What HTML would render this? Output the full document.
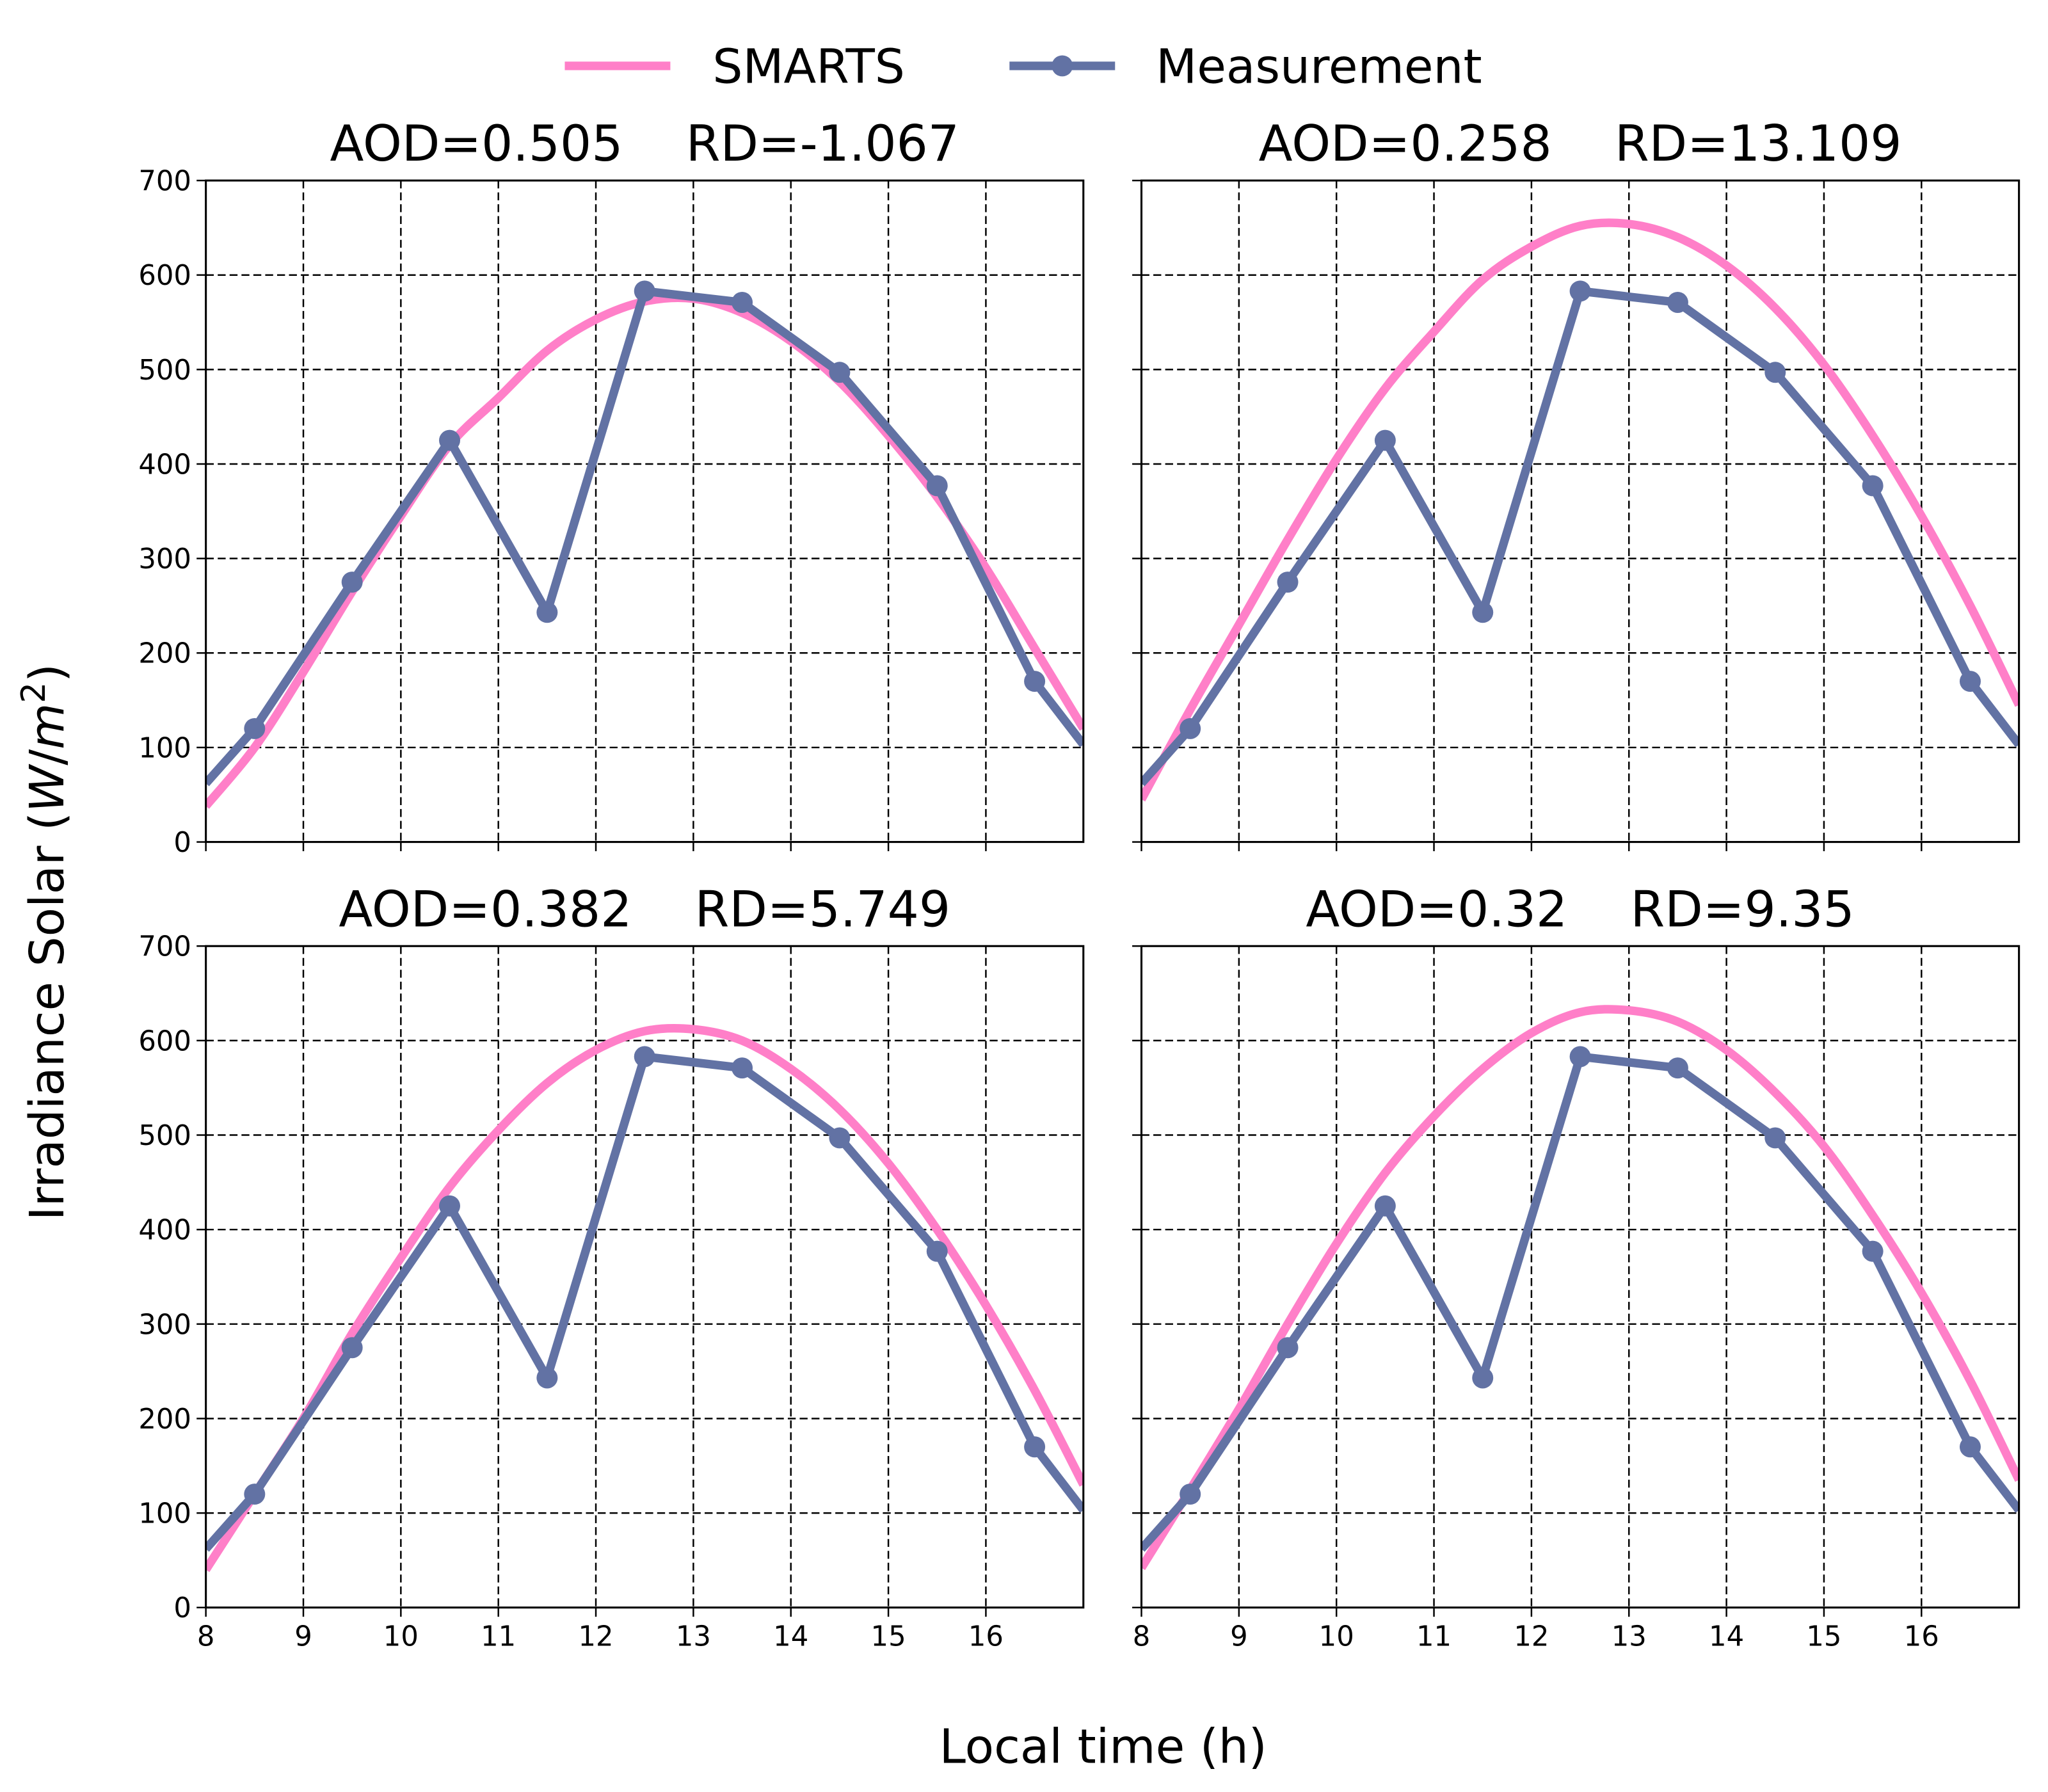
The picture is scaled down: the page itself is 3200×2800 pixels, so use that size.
<!DOCTYPE html>
<html><head><meta charset="utf-8"><style>
html,body{margin:0;padding:0;background:#fff}
svg{display:block}
text{font-family:"DejaVu Sans","Liberation Sans",sans-serif;fill:#000}
</style></head><body>
<svg id="chart" width="3200" height="2800" viewBox="0 0 1552 1360" preserveAspectRatio="none" xmlns="http://www.w3.org/2000/svg">
<g>
<line x1="428" y1="50" x2="508" y2="50" stroke="#ff7fc8" stroke-width="6.5"/>
<text x="540" y="63" font-size="36">SMARTS</text>
<line x1="765" y1="50" x2="845" y2="50" stroke="#6272a4" stroke-width="6.5"/>
<circle cx="805" cy="50" r="8" fill="#6272a4"/>
<text x="876" y="63" font-size="36">Measurement</text>
</g>
<text x="836" y="1338" font-size="36" text-anchor="middle">Local time (h)</text>
<text transform="translate(48,715) rotate(-90)" font-size="36" text-anchor="middle">Irradiance Solar (<tspan font-style="italic">W</tspan>/<tspan font-style="italic">m</tspan><tspan font-size="25" dy="-14">2</tspan><tspan dy="14">)</tspan></text>
<g id="panels"></g>
</svg>
<script>
const hours = [8,8.5,9,9.5,10,10.5,11,11.5,12,12.5,13,13.5,14,14.5,15,15.5,16,16.5,17];
const smarts1 = [38,100,180,265,345,420,470,520,553,572,575,560,530,487,430,365,290,205,120];
const smarts2 = [45,140,230,320,405,480,540,595,630,652,654,640,610,565,505,430,345,250,145];
const smarts3 = [40,120,200,290,370,445,505,555,590,610,612,600,570,527,470,400,320,230,130];
const smarts4 = [42,125,210,300,385,460,520,570,608,630,632,620,590,545,488,415,333,240,135];
const measHours = [8,8.5,9.5,10.5,11.5,12.5,13.5,14.5,15.5,16.5,17];
const measVals = [62,120,275,425,243,583,571,497,377,170,103];
const markerIdx = [1,2,3,4,5,6,7,8,9];
const titles = ["AOD=0.505    RD=-1.067","AOD=0.258    RD=13.109","AOD=0.382    RD=5.749","AOD=0.32    RD=9.35"];
const xTicks = [8,9,10,11,12,13,14,15,16];
const yTicks = [0,100,200,300,400,500,600,700];
const smartsAll = [smarts1,smarts2,smarts3,smarts4];
const NS="http://www.w3.org/2000/svg";
const boxes=[{l:156,t:137},{l:865,t:137},{l:156,t:718},{l:865,t:718}];
const W=665,H=502;
const root=document.getElementById('panels');
function mk(tag,attrs,parent){const e=document.createElementNS(NS,tag);for(const k in attrs)e.setAttribute(k,attrs[k]);parent.appendChild(e);return e;}
function smoothPath(pts){let d=`M${pts[0][0]},${pts[0][1]}`;for(let i=0;i<pts.length-1;i++){const p0=pts[Math.max(i-1,0)],p1=pts[i],p2=pts[i+1],p3=pts[Math.min(i+2,pts.length-1)];d+=` C${p1[0]+(p2[0]-p0[0])/6},${p1[1]+(p2[1]-p0[1])/6} ${p2[0]-(p3[0]-p1[0])/6},${p2[1]-(p3[1]-p1[1])/6} ${p2[0]},${p2[1]}`;}return d;}
boxes.forEach((b,pi)=>{
  const sx=v=>b.l+(v-8)/9*W, sy=v=>b.t+H-v/700*H;
  const g=mk('g',{},root);
  
  
  const cid='clip'+pi;
  const cp=mk('clipPath',{id:cid},g);mk('rect',{x:b.l,y:b.t,width:W,height:H},cp);
  xTicks.forEach(v=>{mk('line',{x1:sx(v),x2:sx(v),y1:b.t,y2:b.t+H,stroke:'#000','stroke-width':1.2,'stroke-dasharray':'6,3'},g);
    mk('line',{x1:sx(v),x2:sx(v),y1:b.t+H,y2:b.t+H+7,stroke:'#000','stroke-width':1.2},g);
    if(pi>=2){const t=mk('text',{x:sx(v),y:b.t+H+29,'font-size':21,'text-anchor':'middle'},g);t.textContent=v;}});
  yTicks.forEach(v=>{mk('line',{x1:b.l,x2:b.l+W,y1:sy(v),y2:sy(v),stroke:'#000','stroke-width':1.2,'stroke-dasharray':'6,3'},g);
    mk('line',{x1:b.l-7,x2:b.l,y1:sy(v),y2:sy(v),stroke:'#000','stroke-width':1.2},g);
    if(pi%2==0){const t=mk('text',{x:b.l-11,y:sy(v)+7.5,'font-size':21,'text-anchor':'end'},g);t.textContent=v;}});
  const cg=mk('g',{'clip-path':`url(#${cid})`},g);
  const sp=mk('path',{d:smoothPath(hours.map((h,i)=>[sx(h),sy(smartsAll[pi][i])])),fill:'none',stroke:'#ff7fc8','stroke-width':6.5},cg);
  
  
  const mp=mk('polyline',{points:measHours.map((h,i)=>sx(h)+','+sy(measVals[i])).join(' '),fill:'none',stroke:'#6272a4','stroke-width':6.5,'stroke-linejoin':'round'},cg);
  
  
  markerIdx.forEach(i=>{const c=mk('circle',{cx:sx(measHours[i]),cy:sy(measVals[i]),r:8,fill:'#6272a4'},g);
    
    });
  mk('rect',{x:b.l,y:b.t,width:W,height:H,fill:'none',stroke:'#000','stroke-width':1.5},g);
  const tt=mk('text',{x:b.l+W/2,y:b.t-15,'font-size':37.5,'text-anchor':'middle','xml:space':'preserve'},g);
  tt.textContent=titles[pi].replace(/    /,'\u00a0\u00a0\u00a0\u00a0');
  
  
});
</script>
</body></html>
